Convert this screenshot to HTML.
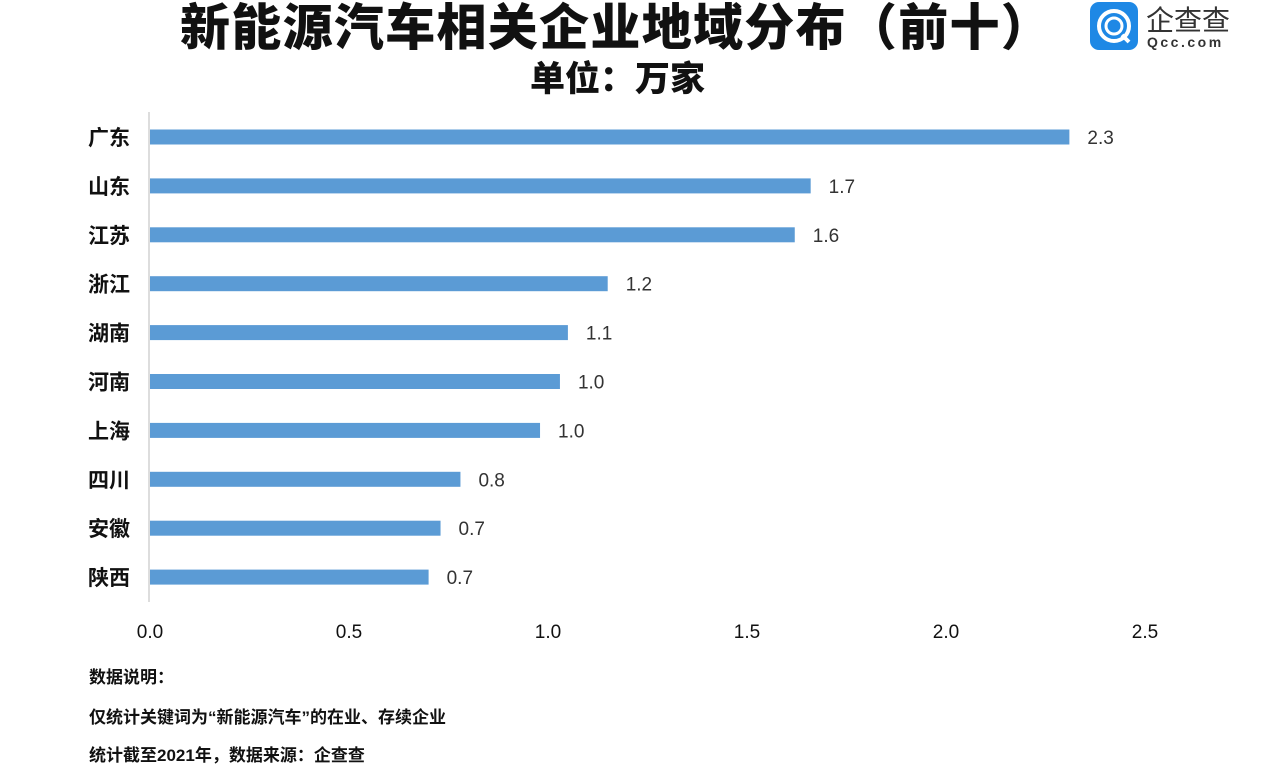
<!DOCTYPE html>
<html><head><meta charset="utf-8"><style>
body{margin:0;width:1266px;height:747px;overflow:hidden;background:#fff;font-family:"Liberation Sans","Noto Sans CJK SC",sans-serif;position:relative}
.t{position:absolute;white-space:nowrap}
</style></head><body>
<div class="t" style="left:180px;top:-12px;font-size:50px;font-weight:900;color:#111;letter-spacing:1.3px">新能源汽车相关企业地域分布（前十）</div>
<div class="t" style="left:530px;top:51px;font-size:35px;font-weight:900;color:#111">单位：万家</div>
<div style="position:absolute;left:1090px;top:2px;width:48px;height:48px;background:#1e88e5;border-radius:9px">
<svg width="48" height="48"><circle cx="24" cy="24" r="15" fill="none" stroke="#fff" stroke-width="4"/><circle cx="24" cy="24" r="8" fill="none" stroke="#fff" stroke-width="3"/><line x1="32" y1="33" x2="39" y2="40" stroke="#fff" stroke-width="4"/></svg></div>
<div class="t" style="left:1146px;top:-1px;font-size:28px;color:#333">企查查</div>
<div class="t" style="left:1147px;top:34px;font-size:14px;color:#333;letter-spacing:2.5px;font-weight:bold">Qcc.com</div>
<svg id="chart" width="1266" height="747" style="position:absolute;left:0;top:0"></svg>
<div class="t" style="left:89px;top:663px;font-size:17px;font-weight:bold;color:#111">数据说明：</div>
<div class="t" style="left:89px;top:703px;font-size:17px;font-weight:bold;color:#111">仅统计关键词为“新能源汽车”的在业、存续企业</div>
<div class="t" style="left:89px;top:741px;font-size:17px;font-weight:bold;color:#111">统计截至2021年，数据来源：企查查</div>
<script>
const categories=["广东","山东","江苏","浙江","湖南","河南","上海","四川","安徽","陕西"];
const values=[2.31,1.66,1.62,1.15,1.05,1.03,0.98,0.78,0.73,0.70];
const valueLabels=["2.3","1.7","1.6","1.2","1.1","1.0","1.0","0.8","0.7","0.7"];
const ticks=[0,0.5,1,1.5,2,2.5];
const tickLabels=["0.0","0.5","1.0","1.5","2.0","2.5"];
const svg=document.getElementById('chart');const NS='http://www.w3.org/2000/svg';
const x0=150,x1=1145,xmax=2.5;const X=v=>x0+(x1-x0)*v/xmax;
const Y=i=>137+i*48.9;
function mk(t,a){const e=document.createElementNS(NS,t);for(const k in a)e.setAttribute(k,a[k]);svg.appendChild(e);return e;}
const ax=mk('line',{x1:149,y1:112,x2:149,y2:602,stroke:'#bbb','stroke-width':1});


categories.forEach((c,i)=>{
 const r=mk('rect',{x:x0,y:Y(i)-7.5,width:X(values[i])-x0,height:15,fill:'#5b9bd5'});
 
 
 const l=mk('text',{x:88,y:Y(i)+8,'font-size':21,'font-weight':'bold',fill:'#111'});l.textContent=c;
 
 
 const v=mk('text',{x:X(values[i])+18,y:Y(i)+7,'font-size':19,fill:'#333'});v.textContent=valueLabels[i];
 
 
});
ticks.forEach((t,i)=>{
 const e=mk('text',{x:X(t),y:638,'font-size':19,fill:'#111','text-anchor':'middle'});e.textContent=tickLabels[i];
 
 
});
</script>
</body></html>
